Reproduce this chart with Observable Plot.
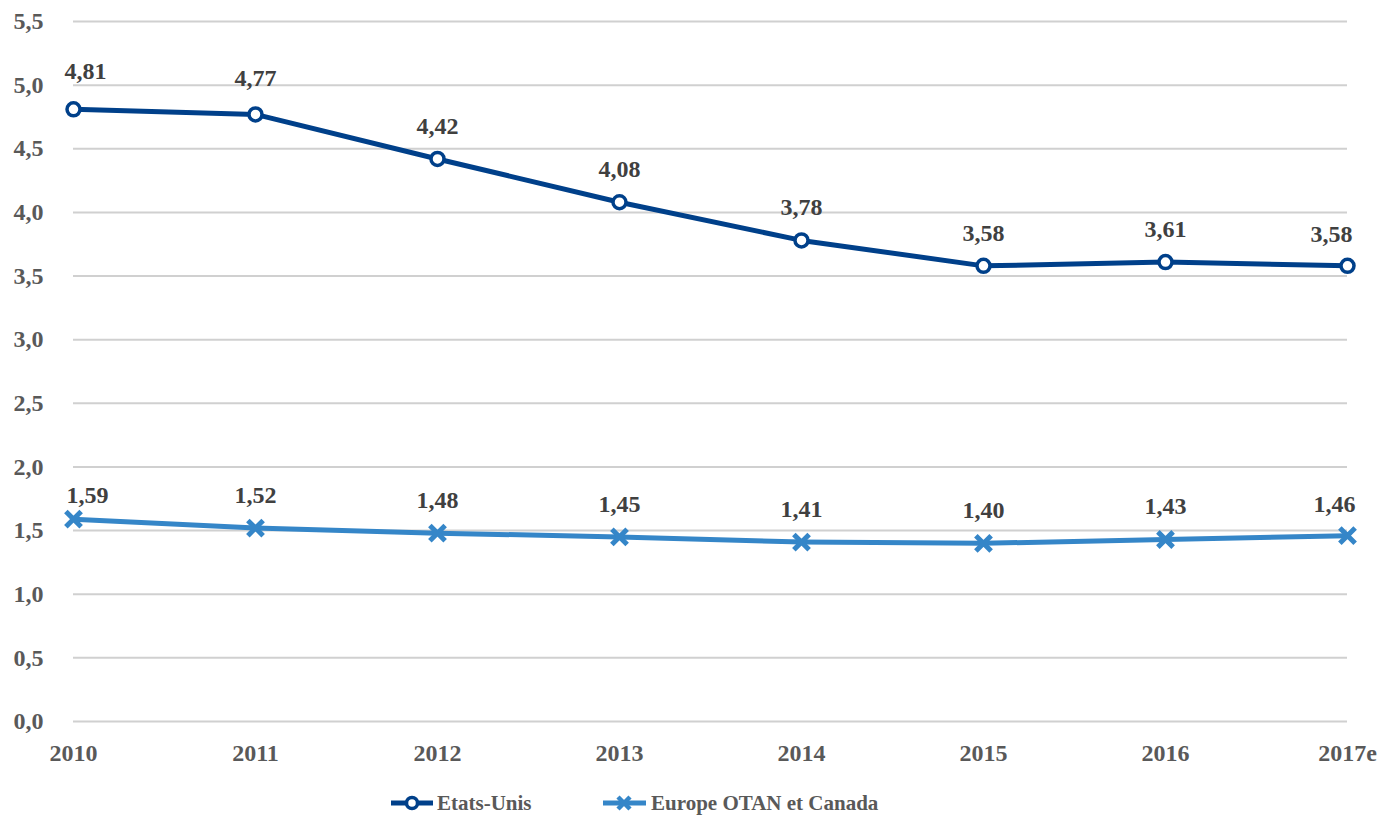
<!DOCTYPE html>
<html>
<head>
<meta charset="utf-8">
<script src="https://cdn.jsdelivr.net/npm/d3@7"></script>
<script src="https://cdn.jsdelivr.net/npm/@observablehq/plot@0.6"></script>
<style>
  html, body { margin: 0; padding: 0; background: #fff; }
  #chart { width: 1396px; }
  #chart svg text { font-family: "Liberation Serif", "Times New Roman", serif !important; }
  .legend { position: relative; height: 36px; font-family: "Liberation Serif", "Times New Roman", serif; font-weight: bold; font-size: 21px; color: #595959; }
  .legend .item { position: absolute; top: 8px; display: flex; align-items: center; height: 30px; }
  .legend svg { margin-right: 3px; }
</style>
</head>
<body>
<div id="chart"></div>
<script>
const years = ["2010", "2011", "2012", "2013", "2014", "2015", "2016", "2017e"];
const usValues = [4.81, 4.77, 4.42, 4.08, 3.78, 3.58, 3.61, 3.58];
const euValues = [1.59, 1.52, 1.48, 1.45, 1.41, 1.40, 1.43, 1.46];
const yTicks = [0, 0.5, 1, 1.5, 2, 2.5, 3, 3.5, 4, 4.5, 5, 5.5];
const seriesNames = ["Etats-Unis", "Europe OTAN et Canada"];

const usColor = "#00408a";
const euColor = "#3586c8";

const us = years.map((y, i) => ({year: y, value: usValues[i], i}));
const eu = years.map((y, i) => ({year: y, value: euValues[i], i}));
const last = years.length - 1;

const fmt1 = d => d3.format(".1f")(d).replace(".", ",");
const fmt2 = d => d3.format(".2f")(d).replace(".", ",");

const serif = "'Liberation Serif', 'Times New Roman', serif";
const labelStyle = {x: "year", y: "value", text: d => fmt2(d.value), fill: "#404040", fontSize: 24};

const plot = Plot.plot({
  width: 1396,
  height: 780,
  marginLeft: 73,
  marginRight: 49,
  marginTop: 21,
  marginBottom: 59,
  style: {fontFamily: serif, fontWeight: "bold", fontSize: "24px", color: "#595959", background: "#fff"},
  x: {type: "point", domain: years, padding: 0, label: null},
  y: {domain: [0, 5.5], label: null},
  marks: [
    Plot.ruleY(yTicks, {stroke: "#d0d0d0", strokeWidth: 2}),
    Plot.axisY({ticks: yTicks, tickFormat: fmt1, tickSize: 0, tickPadding: 30, fontSize: 24, fill: "#595959"}),
    Plot.axisX({tickSize: 0, tickPadding: 22, fontSize: 24, fill: "#595959"}),
    Plot.line(us, {x: "year", y: "value", stroke: usColor, strokeWidth: 5}),
    Plot.line(eu, {x: "year", y: "value", stroke: euColor, strokeWidth: 5}),
    Plot.dot(us, {x: "year", y: "value", r: 6.5, fill: "#fff", stroke: usColor, strokeWidth: 3.5}),
    Plot.dot(eu, {x: "year", y: "value", symbol: "times", r: 7, stroke: euColor, strokeWidth: 5}),
    // US labels
    Plot.text(us.filter(d => d.i === 0), {...labelStyle, dy: -38, dx: 12}),
    Plot.text(us.filter(d => d.i === 1), {...labelStyle, dy: -36}),
    Plot.text(us.filter(d => d.i > 1 && d.i < last), {...labelStyle, dy: -33}),
    Plot.text(us.filter(d => d.i === last), {...labelStyle, dy: -32, dx: -16}),
    // Europe labels
    Plot.text(eu.filter(d => d.i === 0), {...labelStyle, dy: -24, dx: 14}),
    Plot.text(eu.filter(d => d.i > 0 && d.i < last), {...labelStyle, dy: -33}),
    Plot.text(eu.filter(d => d.i === last), {...labelStyle, dy: -31, dx: -13})
  ]
});
document.getElementById("chart").appendChild(plot);

const legend = document.createElement("div");
legend.className = "legend";
legend.innerHTML = `
  <div class="item" style="left:390px">
    <svg width="44" height="20"><line x1="1" y1="10" x2="43" y2="10" stroke="${usColor}" stroke-width="5"/><circle cx="22" cy="10" r="5.5" fill="#fff" stroke="${usColor}" stroke-width="3.5"/></svg>
    <span>${seriesNames[0]}</span>
  </div>
  <div class="item" style="left:602px">
    <svg width="46" height="20"><line x1="1" y1="10" x2="44" y2="10" stroke="${euColor}" stroke-width="5"/><path d="M16,4L28,16M28,4L16,16" stroke="${euColor}" stroke-width="4.5"/></svg>
    <span>${seriesNames[1]}</span>
  </div>`;
document.body.appendChild(legend);
</script>
</body>
</html>
